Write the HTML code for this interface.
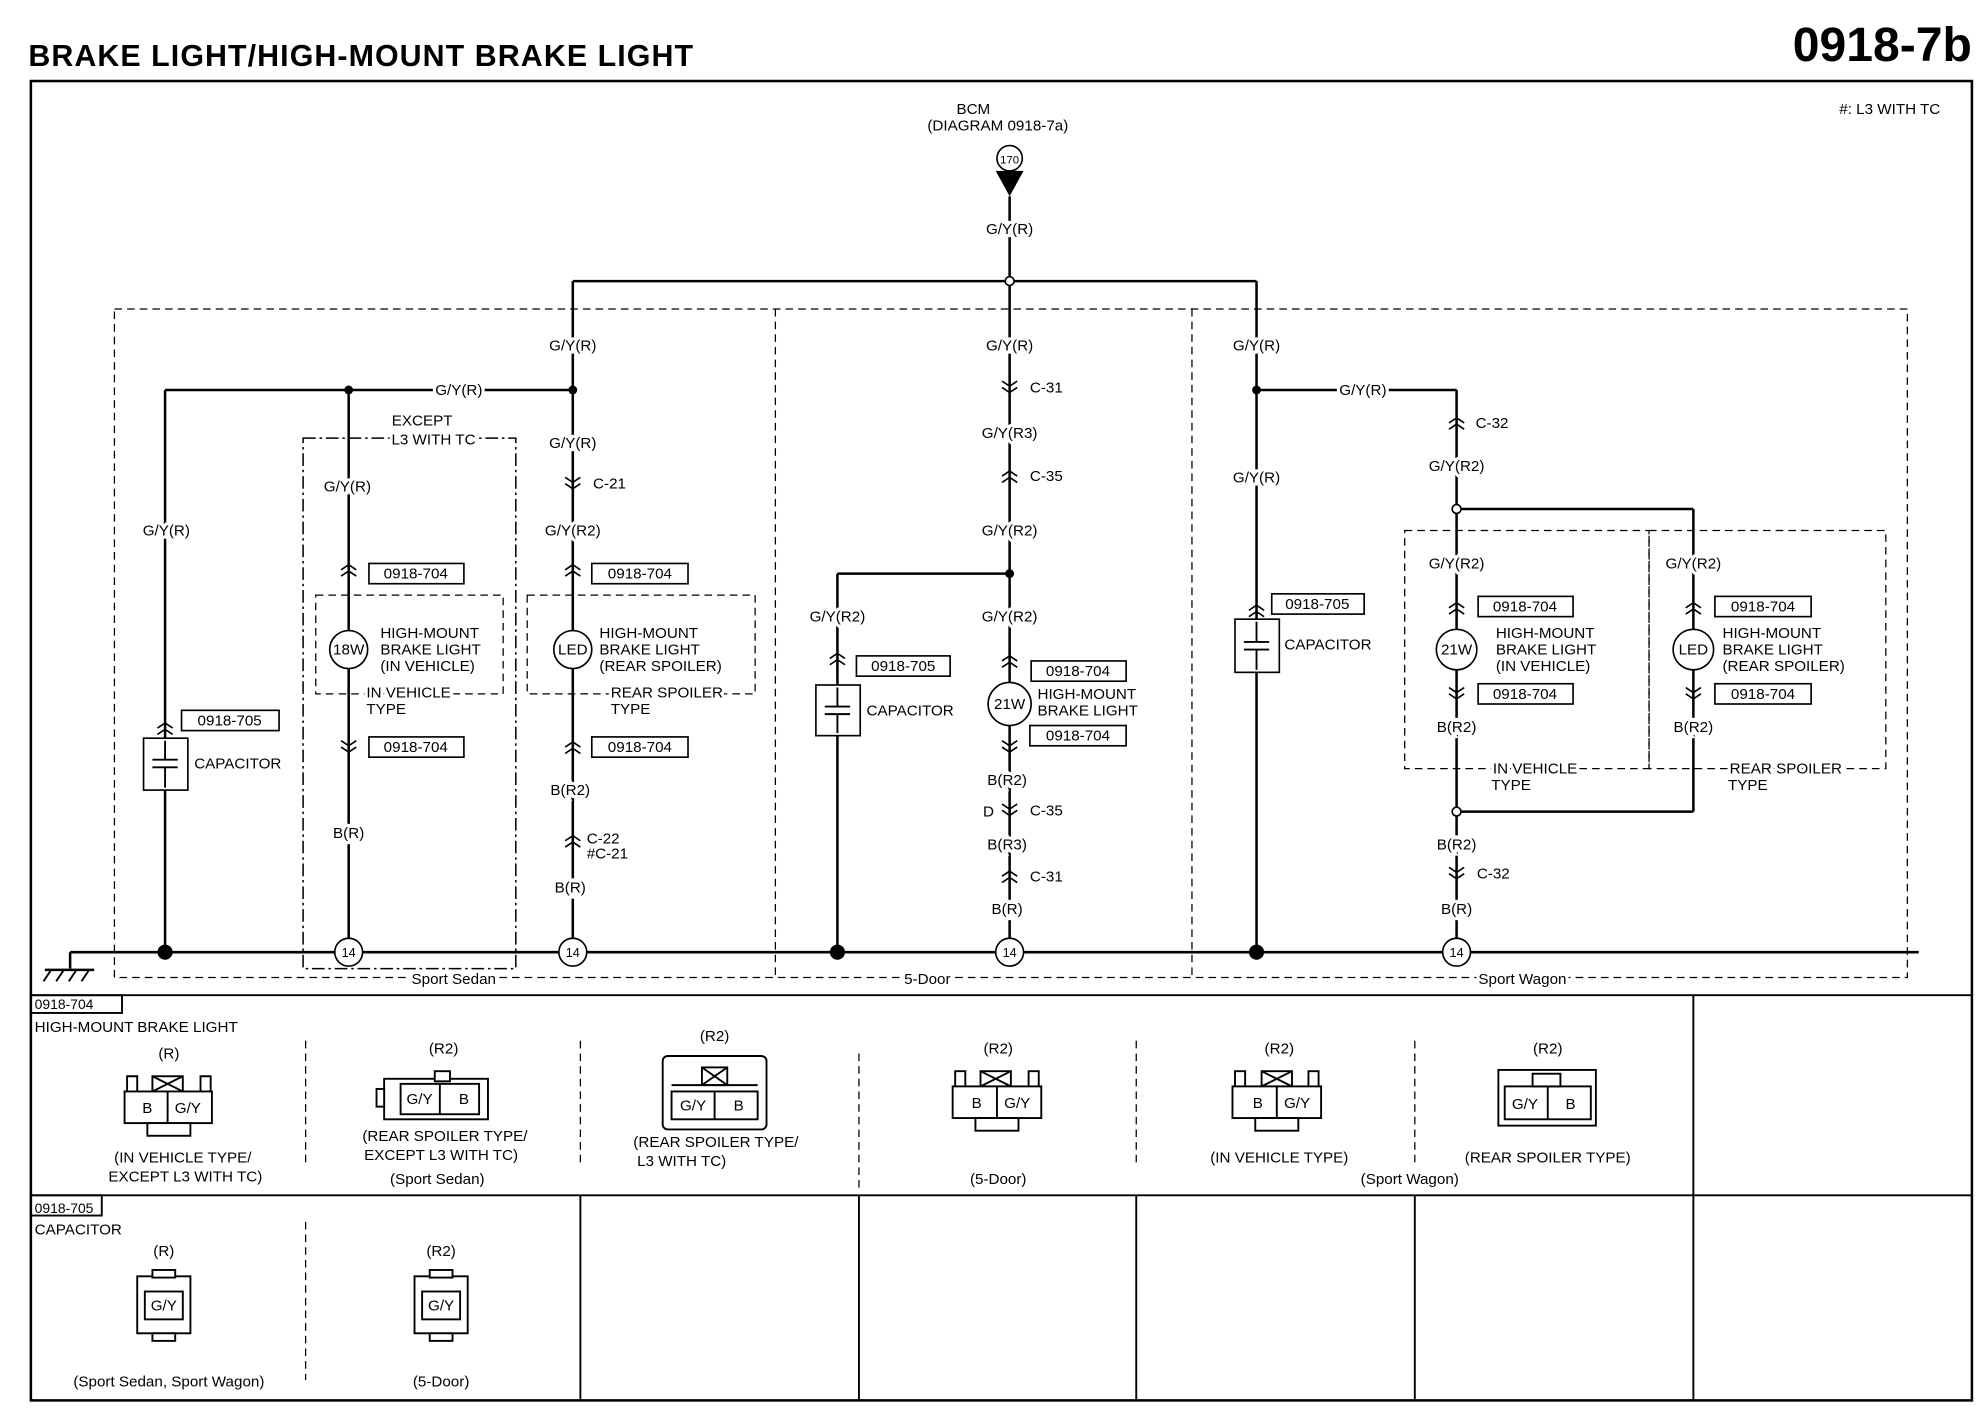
<!DOCTYPE html>
<html><head><meta charset="utf-8"><style>
html,body{margin:0;padding:0;background:#fff;}
svg{display:block;}
text{font-family:"Liberation Sans",Arial,sans-serif;fill:#000;}
.t{font-size:12px;}
.h{paint-order:stroke;stroke:#fff;stroke-width:5px;}
.w{stroke:#000;stroke-width:2;fill:none;}
.d{stroke:#000;stroke-width:1;fill:none;stroke-dasharray:6,4;}
.dd{stroke:#000;stroke-width:1.2;fill:none;stroke-dasharray:10,3,2,3;}
.b{stroke:#000;stroke-width:1.3;fill:#fff;}
</style></head><body>
<svg width="1980" height="1408" viewBox="0 0 1563 1112" xmlns="http://www.w3.org/2000/svg">
<defs>
<g id="cd"><path d="M-6,-5 L0,-1 L6,-5 M-6,0 L0,4 L6,0" stroke="#000" stroke-width="1.3" fill="none"/></g>
<g id="cu"><path d="M-6,5 L0,1 L6,5 M-6,0 L0,-4 L6,0" stroke="#000" stroke-width="1.3" fill="none"/></g>
</defs>
<text x="22" y="52" font-size="24" font-weight="bold" textLength="525">BRAKE LIGHT/HIGH-MOUNT BRAKE LIGHT</text>
<text x="1557" y="48" font-size="38" font-weight="bold" text-anchor="end">0918-7b</text>
<rect x="24" y="64" width="1533" height="1042" fill="none" stroke="#000" stroke-width="2"/>
<text x="1532" y="90" class="t" text-anchor="end">#: L3 WITH TC</text>

<!-- BCM -->
<text x="755" y="90" class="t">BCM</text>
<text x="732" y="103" class="t">(DIAGRAM 0918-7a)</text>
<circle cx="797" cy="125" r="10" class="b"/><text x="797" y="129" font-size="9" text-anchor="middle">170</text>
<path d="M786,135 L808,135 L797,155 Z" fill="#000"/>
<line x1="797" y1="155" x2="797" y2="752" class="w"/>
<line x1="452" y1="222" x2="992" y2="222" class="w"/>
<line x1="452" y1="222" x2="452" y2="752" class="w"/>
<line x1="992" y1="222" x2="992" y2="752" class="w"/>
<circle cx="797" cy="222" r="3.5" class="b"/>

<!-- dashed groups -->
<rect x="90" y="244" width="1416" height="528" class="d"/>
<line x1="612" y1="244" x2="612" y2="772" class="d"/>
<line x1="941" y1="244" x2="941" y2="772" class="d"/>

<!-- ground -->
<line x1="55" y1="752" x2="1515" y2="752" class="w"/>
<line x1="55" y1="752" x2="55" y2="765" class="w"/>
<line x1="35" y1="766" x2="74" y2="766" class="w"/>
<path d="M40,766 l-6,9 M50,766 l-6,9 M60,766 l-6,9 M70,766 l-6,9" stroke="#000" stroke-width="1.5"/>

<!-- left section -->
<line x1="130" y1="308" x2="452" y2="308" class="w"/>
<line x1="130" y1="308" x2="130" y2="752" class="w"/>
<line x1="275" y1="308" x2="275" y2="742" class="w"/>
<circle cx="275" cy="308" r="3.5" fill="#000"/><circle cx="452" cy="308" r="3.5" fill="#000"/>
<circle cx="130" cy="752" r="6" fill="#000"/>
<text x="362" y="312" class="t h" text-anchor="middle">G/Y(R)</text>
<text x="131" y="423" class="t h" text-anchor="middle">G/Y(R)</text>
<use href="#cu" x="130" y="575"/>
<rect x="143" y="561" width="77" height="16" class="b"/><text x="181" y="573" class="t" text-anchor="middle">0918-705</text>
<rect x="113" y="583" width="35" height="41" class="b" stroke-width="2"/>
<path d="M130,585 V600 M120,600 H140 M120,606 H140 M130,606 V622" stroke="#000" stroke-width="1.5"/>
<text x="153" y="607" class="t">CAPACITOR</text>

<rect x="239" y="346" width="168" height="419" class="dd"/>
<text x="333" y="336" class="t" text-anchor="middle">EXCEPT</text>
<text x="342" y="351" class="t h" text-anchor="middle">L3 WITH TC</text>
<text x="274" y="388" class="t h" text-anchor="middle">G/Y(R)</text>
<use href="#cu" x="275" y="450"/>
<rect x="291" y="445" width="75" height="16" class="b"/><text x="328" y="457" class="t" text-anchor="middle">0918-704</text>
<rect x="249" y="470" width="148" height="78" class="d"/>
<circle cx="275" cy="513" r="15" class="b" stroke-width="2"/><text x="275" y="517" class="t" text-anchor="middle">18W</text>
<text x="300" y="504" class="t">HIGH-MOUNT</text><text x="300" y="517" class="t">BRAKE LIGHT</text><text x="300" y="530" class="t">(IN VEHICLE)</text>
<text x="289" y="551" class="t h">IN VEHICLE</text><text x="289" y="564" class="t">TYPE</text>
<use href="#cd" x="275" y="590"/>
<rect x="291" y="582" width="75" height="16" class="b"/><text x="328" y="594" class="t" text-anchor="middle">0918-704</text>
<text x="275" y="662" class="t h" text-anchor="middle">B(R)</text>
<circle cx="275" cy="752" r="11" class="b"/><text x="275" y="756" font-size="10" text-anchor="middle">14</text>

<text x="452" y="277" class="t h" text-anchor="middle">G/Y(R)</text>
<text x="452" y="354" class="t h" text-anchor="middle">G/Y(R)</text>
<use href="#cd" x="452" y="382"/><text x="468" y="386" class="t">C-21</text>
<text x="452" y="423" class="t h" text-anchor="middle">G/Y(R2)</text>
<use href="#cu" x="452" y="450"/>
<rect x="467" y="445" width="76" height="16" class="b"/><text x="505" y="457" class="t" text-anchor="middle">0918-704</text>
<rect x="416" y="470" width="180" height="78" class="d"/>
<circle cx="452" cy="513" r="15" class="b" stroke-width="2"/><text x="452" y="517" class="t" text-anchor="middle">LED</text>
<text x="473" y="504" class="t">HIGH-MOUNT</text><text x="473" y="517" class="t">BRAKE LIGHT</text><text x="473" y="530" class="t">(REAR SPOILER)</text>
<text x="482" y="551" class="t h">REAR SPOILER</text><text x="482" y="564" class="t">TYPE</text>
<use href="#cu" x="452" y="590"/>
<rect x="467" y="582" width="76" height="16" class="b"/><text x="505" y="594" class="t" text-anchor="middle">0918-704</text>
<text x="450" y="628" class="t h" text-anchor="middle">B(R2)</text>
<use href="#cu" x="452" y="664"/><text x="463" y="666" class="t">C-22</text><text x="463" y="678" class="t">#C-21</text>
<text x="450" y="705" class="t h" text-anchor="middle">B(R)</text>
<circle cx="452" cy="752" r="11" class="b"/><text x="452" y="756" font-size="10" text-anchor="middle">14</text>
<text x="358" y="777" class="t h" text-anchor="middle">Sport Sedan</text>

<!-- middle section -->
<text x="797" y="277" class="t h" text-anchor="middle">G/Y(R)</text>
<text x="797" y="185" class="t h" text-anchor="middle">G/Y(R)</text>
<use href="#cd" x="797" y="306"/><text x="813" y="310" class="t">C-31</text>
<text x="797" y="346" class="t h" text-anchor="middle">G/Y(R3)</text>
<use href="#cu" x="797" y="376"/><text x="813" y="380" class="t">C-35</text>
<text x="797" y="423" class="t h" text-anchor="middle">G/Y(R2)</text>
<line x1="661" y1="453" x2="797" y2="453" class="w"/>
<line x1="661" y1="453" x2="661" y2="752" class="w"/>
<circle cx="797" cy="453" r="3.5" fill="#000"/>
<circle cx="661" cy="752" r="6" fill="#000"/>
<text x="661" y="491" class="t h" text-anchor="middle">G/Y(R2)</text>
<use href="#cu" x="661" y="520"/>
<rect x="676" y="518" width="74" height="16" class="b"/><text x="713" y="530" class="t" text-anchor="middle">0918-705</text>
<rect x="644" y="541" width="35" height="40" class="b" stroke-width="2"/>
<path d="M661,543 V558 M651,558 H671 M651,564 H671 M661,564 V579" stroke="#000" stroke-width="1.5"/>
<text x="684" y="565" class="t">CAPACITOR</text>
<text x="797" y="491" class="t h" text-anchor="middle">G/Y(R2)</text>
<use href="#cu" x="797" y="522"/>
<rect x="814" y="522" width="75" height="16" class="b"/><text x="851" y="534" class="t" text-anchor="middle">0918-704</text>
<circle cx="797" cy="556" r="17" class="b" stroke-width="2"/><text x="797" y="560" class="t" text-anchor="middle">21W</text>
<text x="819" y="552" class="t">HIGH-MOUNT</text><text x="819" y="565" class="t">BRAKE LIGHT</text>
<rect x="813" y="573" width="76" height="16" class="b"/><text x="851" y="585" class="t" text-anchor="middle">0918-704</text>
<use href="#cd" x="797" y="590"/>
<text x="795" y="620" class="t h" text-anchor="middle">B(R2)</text>
<text x="776" y="645" class="t">D</text><use href="#cd" x="797" y="640"/><text x="813" y="644" class="t">C-35</text>
<text x="795" y="671" class="t h" text-anchor="middle">B(R3)</text>
<use href="#cu" x="797" y="692"/><text x="813" y="696" class="t">C-31</text>
<text x="795" y="722" class="t h" text-anchor="middle">B(R)</text>
<circle cx="797" cy="752" r="11" class="b"/><text x="797" y="756" font-size="10" text-anchor="middle">14</text>
<text x="732" y="777" class="t h" text-anchor="middle">5-Door</text>

<!-- right section -->
<text x="992" y="277" class="t h" text-anchor="middle">G/Y(R)</text>
<line x1="992" y1="308" x2="1150" y2="308" class="w"/>
<circle cx="992" cy="308" r="3.5" fill="#000"/>
<text x="1076" y="312" class="t h" text-anchor="middle">G/Y(R)</text>
<text x="992" y="381" class="t h" text-anchor="middle">G/Y(R)</text>
<use href="#cu" x="992" y="482"/>
<rect x="1004" y="469" width="73" height="16" class="b"/><text x="1040" y="481" class="t" text-anchor="middle">0918-705</text>
<rect x="975" y="489" width="35" height="42" class="b" stroke-width="2"/>
<path d="M992,491 V507 M982,507 H1002 M982,513 H1002 M992,513 V529" stroke="#000" stroke-width="1.5"/>
<text x="1014" y="513" class="t">CAPACITOR</text>
<circle cx="992" cy="752" r="6" fill="#000"/>

<line x1="1150" y1="308" x2="1150" y2="742" class="w"/>
<line x1="1150" y1="402" x2="1337" y2="402" class="w"/>
<line x1="1337" y1="402" x2="1337" y2="641" class="w"/>
<line x1="1150" y1="641" x2="1337" y2="641" class="w"/>
<use href="#cu" x="1150" y="334"/><text x="1165" y="338" class="t">C-32</text>
<text x="1150" y="372" class="t h" text-anchor="middle">G/Y(R2)</text>
<circle cx="1150" cy="402" r="3.5" class="b"/>
<rect x="1109" y="419" width="193" height="188" class="d"/>
<rect x="1302" y="419" width="187" height="188" class="d"/>
<text x="1150" y="449" class="t h" text-anchor="middle">G/Y(R2)</text>
<use href="#cu" x="1150" y="480"/>
<rect x="1167" y="471" width="75" height="16" class="b"/><text x="1204" y="483" class="t" text-anchor="middle">0918-704</text>
<circle cx="1150" cy="513" r="16" class="b" stroke-width="2"/><text x="1150" y="517" class="t" text-anchor="middle">21W</text>
<text x="1181" y="504" class="t">HIGH-MOUNT</text><text x="1181" y="517" class="t">BRAKE LIGHT</text><text x="1181" y="530" class="t">(IN VEHICLE)</text>
<use href="#cd" x="1150" y="548"/>
<rect x="1167" y="540" width="75" height="16" class="b"/><text x="1204" y="552" class="t" text-anchor="middle">0918-704</text>
<text x="1150" y="578" class="t h" text-anchor="middle">B(R2)</text>
<text x="1212" y="611" class="t h" text-anchor="middle">IN VEHICLE</text><text x="1193" y="624" class="t" text-anchor="middle">TYPE</text>
<text x="1337" y="449" class="t h" text-anchor="middle">G/Y(R2)</text>
<use href="#cu" x="1337" y="480"/>
<rect x="1354" y="471" width="76" height="16" class="b"/><text x="1392" y="483" class="t" text-anchor="middle">0918-704</text>
<circle cx="1337" cy="513" r="16" class="b" stroke-width="2"/><text x="1337" y="517" class="t" text-anchor="middle">LED</text>
<text x="1360" y="504" class="t">HIGH-MOUNT</text><text x="1360" y="517" class="t">BRAKE LIGHT</text><text x="1360" y="530" class="t">(REAR SPOILER)</text>
<use href="#cd" x="1337" y="548"/>
<rect x="1354" y="540" width="76" height="16" class="b"/><text x="1392" y="552" class="t" text-anchor="middle">0918-704</text>
<text x="1337" y="578" class="t h" text-anchor="middle">B(R2)</text>
<text x="1410" y="611" class="t h" text-anchor="middle">REAR SPOILER</text><text x="1380" y="624" class="t" text-anchor="middle">TYPE</text>
<circle cx="1150" cy="641" r="3.5" class="b"/>
<text x="1150" y="671" class="t h" text-anchor="middle">B(R2)</text>
<use href="#cd" x="1150" y="690"/><text x="1166" y="694" class="t">C-32</text>
<text x="1150" y="722" class="t h" text-anchor="middle">B(R)</text>
<circle cx="1150" cy="752" r="11" class="b"/><text x="1150" y="756" font-size="10" text-anchor="middle">14</text>
<text x="1202" y="777" class="t h" text-anchor="middle">Sport Wagon</text>

<!-- tables -->
<g stroke="#000" stroke-width="1.5" fill="none">
<line x1="24" y1="786" x2="1557" y2="786"/>
<line x1="24" y1="944" x2="1557" y2="944"/>
<line x1="1337" y1="786" x2="1337" y2="1106"/>
<line x1="458" y1="944" x2="458" y2="1106"/>
<line x1="678" y1="944" x2="678" y2="1106"/>
<line x1="897" y1="944" x2="897" y2="1106"/>
<line x1="1117" y1="944" x2="1117" y2="1106"/>
<rect x="24" y="786" width="72" height="14"/>
<rect x="24" y="944" width="56" height="16"/>
</g>
<g class="d"><line x1="241" y1="822" x2="241" y2="920"/><line x1="458" y1="822" x2="458" y2="920"/><line x1="678" y1="832" x2="678" y2="940"/><line x1="897" y1="822" x2="897" y2="920"/><line x1="1117" y1="822" x2="1117" y2="920"/><line x1="241" y1="965" x2="241" y2="1090"/></g>
<text x="27" y="797" font-size="11">0918-704</text>
<text x="27" y="815" class="t">HIGH-MOUNT BRAKE LIGHT</text>
<text x="27" y="958" font-size="11">0918-705</text>
<text x="27" y="975" class="t">CAPACITOR</text>

<g stroke="#000" stroke-width="1.5" fill="#fff">
<!-- 1 -->
<path d="M100,862 V850 H108 V862 M158,862 V850 H166 V862"/><rect x="120" y="850" width="24" height="12"/><path d="M120,850 L144,862 M144,850 L120,862"/>
<rect x="98" y="862" width="69" height="25"/><line x1="132" y1="862" x2="132" y2="887"/><rect x="116" y="887" width="34" height="10"/>
<!-- 2 -->
<rect x="303" y="852" width="82" height="32"/><rect x="316" y="856" width="62" height="24"/><line x1="347" y1="856" x2="347" y2="880"/><rect x="343" y="846" width="12" height="8"/><rect x="297" y="860" width="6" height="14"/>
<!-- 3 -->
<rect x="523" y="834" width="82" height="58" rx="4"/><rect x="530" y="862" width="68" height="22"/><line x1="564" y1="862" x2="564" y2="884"/><rect x="554" y="843" width="20" height="14"/><path d="M554,843 L574,857 M574,843 L554,857"/><line x1="530" y1="857" x2="598" y2="857"/>
<!-- 4 -->
<path d="M754,858 V846 H762 V858 M812,858 V846 H820 V858"/><rect x="774" y="846" width="24" height="12"/><path d="M774,846 L798,858 M798,846 L774,858"/>
<rect x="752" y="858" width="70" height="25"/><line x1="787" y1="858" x2="787" y2="883"/><rect x="770" y="883" width="34" height="10"/>
<!-- 5 -->
<path d="M975,858 V846 H983 V858 M1033,858 V846 H1041 V858"/><rect x="996" y="846" width="24" height="12"/><path d="M996,846 L1020,858 M1020,846 L996,858"/>
<rect x="973" y="858" width="70" height="25"/><line x1="1008" y1="858" x2="1008" y2="883"/><rect x="991" y="883" width="34" height="10"/>
<!-- 6 -->
<rect x="1183" y="845" width="77" height="44"/><rect x="1188" y="858" width="68" height="26"/><line x1="1222" y1="858" x2="1222" y2="884"/><rect x="1210" y="848" width="22" height="10"/>
<!-- cap1 -->
<rect x="108" y="1008" width="42" height="45"/><rect x="114" y="1020" width="30" height="22"/><rect x="120" y="1003" width="18" height="6"/><rect x="120" y="1053" width="18" height="6"/>
<!-- cap2 -->
<rect x="327" y="1008" width="42" height="45"/><rect x="333" y="1020" width="30" height="22"/><rect x="339" y="1003" width="18" height="6"/><rect x="339" y="1053" width="18" height="6"/>
</g>
<g class="t" text-anchor="middle">
<text x="133" y="836">(R)</text><text x="116" y="879">B</text><text x="148" y="879">G/Y</text>
<text x="144" y="918">(IN VEHICLE TYPE/</text><text x="146" y="933">EXCEPT L3 WITH TC)</text>
<text x="350" y="832">(R2)</text><text x="331" y="872">G/Y</text><text x="366" y="872">B</text>
<text x="351" y="901">(REAR SPOILER TYPE/</text><text x="348" y="916">EXCEPT L3 WITH TC)</text><text x="345" y="935">(Sport Sedan)</text>
<text x="564" y="822">(R2)</text><text x="547" y="877">G/Y</text><text x="583" y="877">B</text>
<text x="565" y="906">(REAR SPOILER TYPE/</text><text x="538" y="921">L3 WITH TC)</text>
<text x="788" y="832">(R2)</text><text x="771" y="875">B</text><text x="803" y="875">G/Y</text><text x="788" y="935">(5-Door)</text>
<text x="1010" y="832">(R2)</text><text x="993" y="875">B</text><text x="1024" y="875">G/Y</text><text x="1010" y="918">(IN VEHICLE TYPE)</text><text x="1113" y="935">(Sport Wagon)</text>
<text x="1222" y="832">(R2)</text><text x="1204" y="876">G/Y</text><text x="1240" y="876">B</text><text x="1222" y="918">(REAR SPOILER TYPE)</text>
<text x="129" y="992">(R)</text><text x="129" y="1035">G/Y</text><text x="133" y="1095">(Sport Sedan, Sport Wagon)</text>
<text x="348" y="992">(R2)</text><text x="348" y="1035">G/Y</text><text x="348" y="1095">(5-Door)</text>
</g>
</svg>
</body></html>
